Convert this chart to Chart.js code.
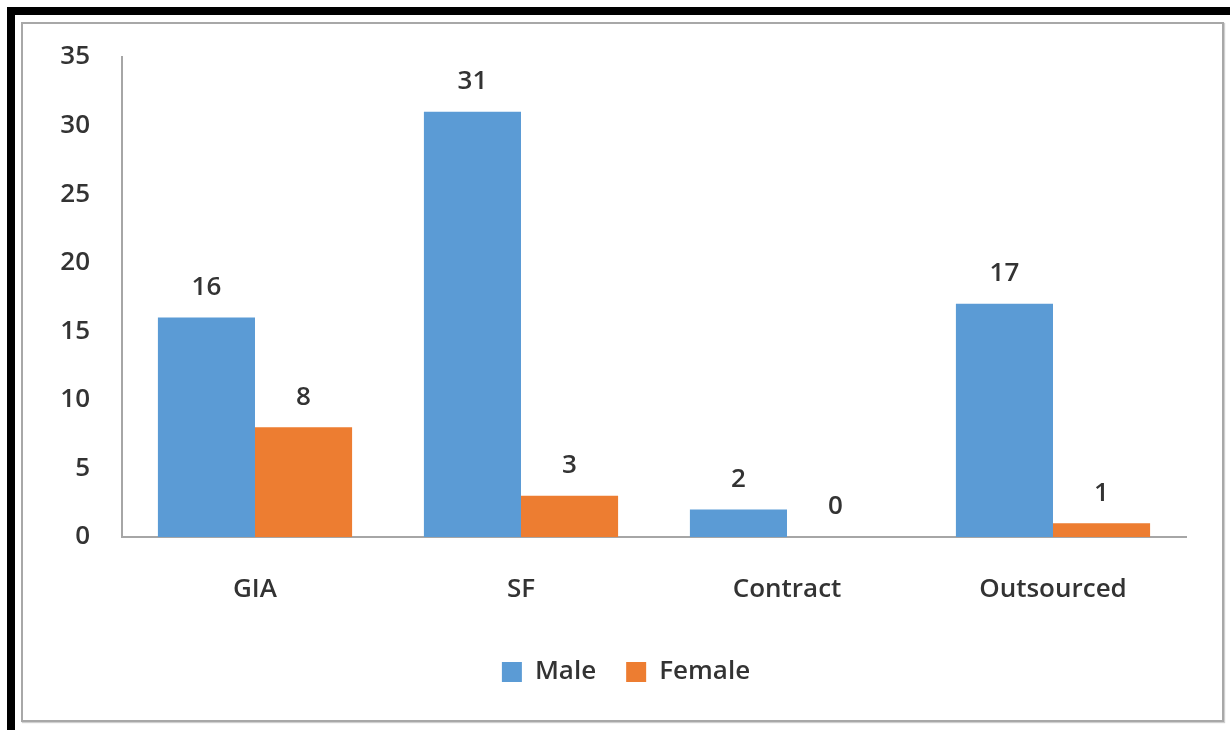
<!DOCTYPE html>
<html>
<head>
<meta charset="utf-8">
<script src="https://cdn.jsdelivr.net/npm/chart.js@4/dist/chart.umd.min.js"></script>
<style>
  html, body { margin: 0; padding: 0; background: #fff; width: 1230px; height: 730px; overflow: hidden; }
  #outer { position: absolute; left: 7px; top: 7px; width: 1260px; height: 740px; border: 8px solid #000; box-sizing: border-box; }
  #inner { position: absolute; left: 21px; top: 22px; width: 1203px; height: 700px; border: 2px solid #a8a8a8; box-sizing: border-box; box-shadow: 1px 1px 1px #cfcfcf; }
  #c { position: absolute; left: 0; top: 0; }
</style>
</head>
<body>
<div id="outer"></div>
<div id="inner"></div>
<canvas id="c" width="1230" height="730"></canvas>
<script>
const categories = ["GIA", "SF", "Contract", "Outsourced"];
const maleValues = [16, 31, 2, 17];
const femaleValues = [8, 3, 0, 1];
const seriesNames = ["Male", "Female"];
const yTicks = [0, 5, 10, 15, 20, 25, 30, 35];

const FONT = "'Open Sans', 'Noto Sans', sans-serif";
const TEXT = "#333333";
const WEIGHT = "600";

const valueLabels = {
  id: "valueLabels",
  afterDatasetsDraw(chart) {
    const ctx = chart.ctx;
    ctx.save();
    ctx.font = WEIGHT + " 26px " + FONT;
    ctx.fillStyle = TEXT;
    ctx.textAlign = "center";
    ctx.textBaseline = "middle";
    chart.data.datasets.forEach((ds, di) => {
      const meta = chart.getDatasetMeta(di);
      meta.data.forEach((el, i) => {
        ctx.fillText(String(ds.data[i]), el.x, el.y - 30);
      });
    });
    ctx.restore();
  }
};

const legendShift = {
  id: "legendShift",
  afterLayout(chart) {
    if (chart.legend) {
      chart.legend.left += 33;
      chart.legend.right += 33;
    }
  }
};

new Chart(document.getElementById("c"), {
  type: "bar",
  data: {
    labels: categories,
    datasets: [
      { label: seriesNames[0], data: maleValues, backgroundColor: "#5B9BD5", borderWidth: 0, categoryPercentage: 0.73, barPercentage: 1.0 },
      { label: seriesNames[1], data: femaleValues, backgroundColor: "#ED7D31", borderWidth: 0, categoryPercentage: 0.73, barPercentage: 1.0 }
    ]
  },
  options: {
    responsive: false,
    animation: false,
    layout: { padding: { left: 0, right: 44, top: 57, bottom: 35 } },
    plugins: {
      tooltip: { enabled: false },
      legend: {
        position: "bottom",
        labels: {
          boxWidth: 20,
          boxHeight: 20,
          padding: 30,
          color: TEXT,
          font: { family: FONT, size: 26, weight: WEIGHT }
        }
      }
    },
    scales: {
      x: {
        grid: { display: false, drawTicks: false },
        border: { display: true, color: "#a6a6a6", width: 2 },
        ticks: { color: TEXT, font: { family: FONT, size: 26, weight: WEIGHT }, padding: 37, maxRotation: 0 },
        afterFit(scale) { scale.height = 92; }
      },
      y: {
        min: 0,
        max: 35,
        grid: { display: false, drawTicks: false },
        border: { display: true, color: "#a6a6a6", width: 2 },
        afterBuildTicks(scale) { scale.ticks = yTicks.map(v => ({ value: v })); },
        ticks: { color: TEXT, font: { family: FONT, size: 26, weight: WEIGHT }, padding: 32 },
        afterFit(scale) { scale.width = 122; }
      }
    }
  },
  plugins: [valueLabels, legendShift]
});
</script>
</body>
</html>
